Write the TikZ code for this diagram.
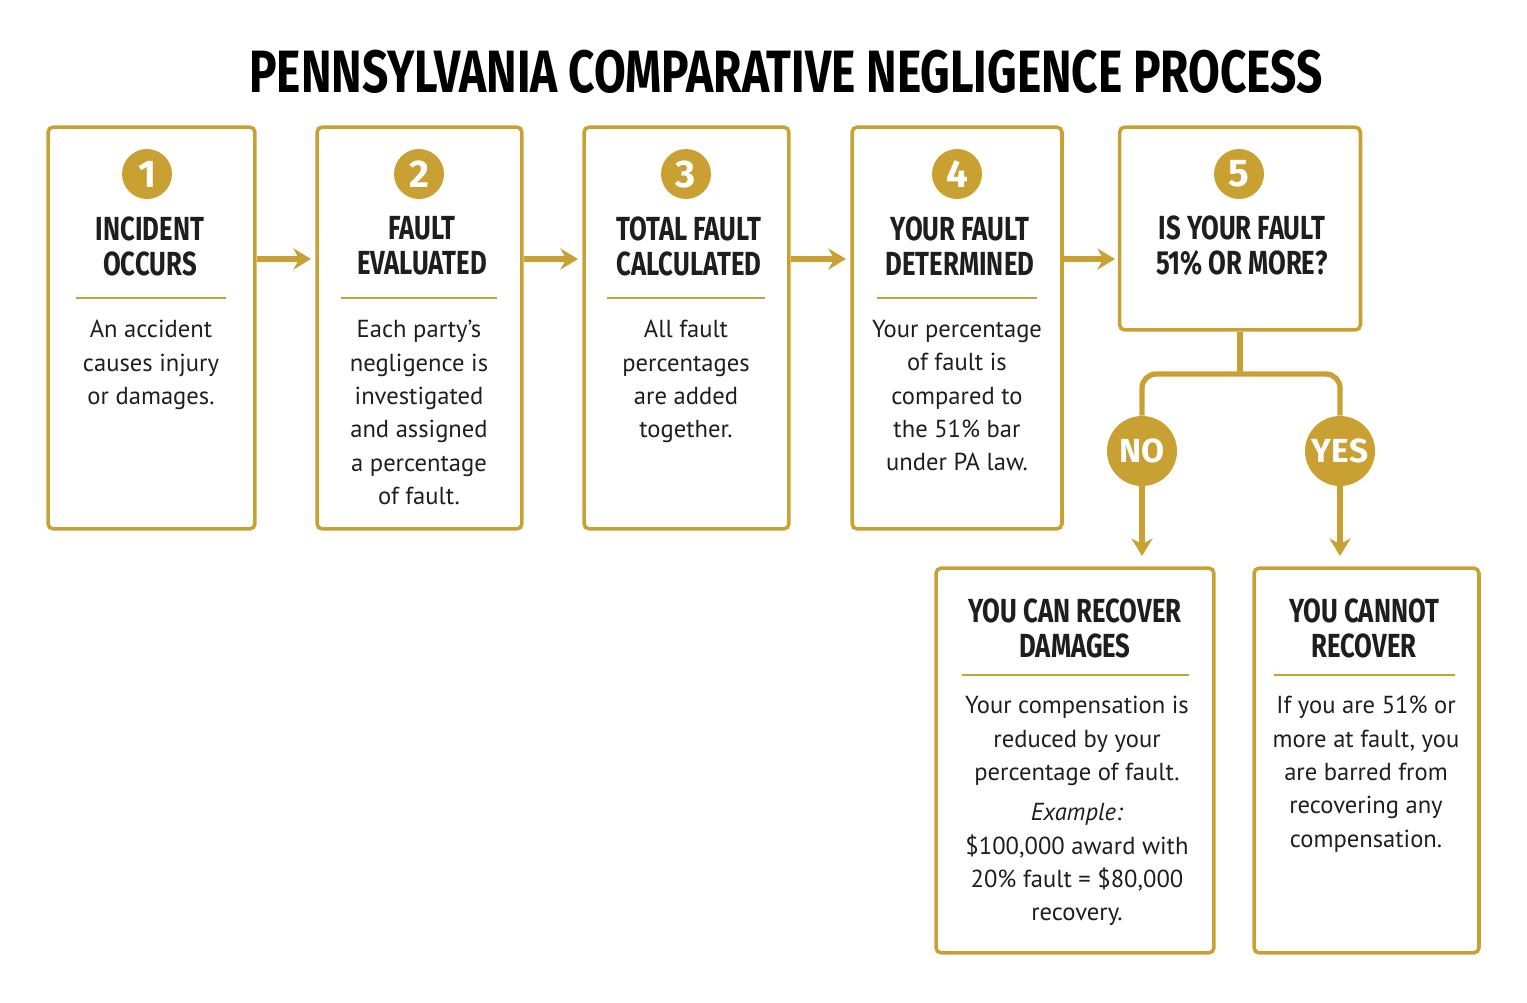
\documentclass[tikz,border=0pt]{standalone}
\usepackage{fontspec}
\setmainfont{PT Sans}
\newfontfamily\headfont{Fira Sans}
\usetikzlibrary{positioning,arrows.meta}
\definecolor{gold}{HTML}{C9A133}
\definecolor{ink}{HTML}{1E1E1E}
\tikzset{
  box/.style={draw=gold, line width=2pt, rounded corners=3pt, inner sep=0pt},
  num/.style={circle, fill=gold, minimum size=1cm, inner sep=0pt, text=white, font=\headfont\fontsize{22}{22}\selectfont\bfseries},
  ttl/.style={align=center, text=ink, font=\headfont\fontsize{19}{20}\selectfont\bfseries, xscale=0.77, transform shape},
  body/.style={align=center, text=ink, font=\fontsize{14}{19}\selectfont, anchor=north},
  rule/.style={gold, line width=1.3pt},
  flow/.style={gold, line width=3pt, -{Stealth[length=10pt,width=12pt]}},
  choice/.style={circle, fill=gold, minimum size=1.4cm, inner sep=0pt, text=white, font=\headfont\fontsize{19}{20}\selectfont\bfseries},
}
\begin{document}
\begin{tikzpicture}[x=0.02cm, y=-0.02cm]
  \useasboundingbox (0,0) rectangle (1527,1002);
  % title
  \node[text=black, font=\headfont\fontsize{34}{34}\selectfont\bfseries, xscale=0.77, transform shape] (title) at (786,72) {PENNSYLVANIA COMPARATIVE NEGLIGENCE PROCESS};
  % step boxes
  \node[box, minimum width=4.14cm, minimum height=8.04cm] (s1) at (151.5,328) {};
  \node[box, minimum width=4.10cm, minimum height=8.04cm] (s2) at (419.5,328) {};
  \node[box, minimum width=4.10cm, minimum height=8.04cm] (s3) at (686.5,328) {};
  \node[box, minimum width=4.20cm, minimum height=8.04cm] (s4) at (957,328) {};
  \node[box, minimum width=4.82cm, minimum height=4.06cm] (s5) at (1240,228.5) {};
  \node[box, minimum width=5.56cm, minimum height=7.70cm] (yes) at (1075,760.5) {};
  \node[box, minimum width=4.50cm, minimum height=7.70cm] (no) at (1366.5,760.5) {};
  % numbers and titles
  \foreach \i/\x/\t in {1/147/{INCIDENT\\OCCURS}, 2/419/{FAULT\\EVALUATED}, 3/686/{TOTAL FAULT\\CALCULATED}, 4/957/{YOUR FAULT\\DETERMINED}, 5/1239/{IS YOUR FAULT\\51\% OR MORE?}}{
    \node[num] (n\i) at (\x,174) {\i};
    \node[ttl] (t\i) at (\x+3,246) {\t};
  }
  \foreach \i/\x/\w in {1/151/75, 2/419/78, 3/686/79, 4/957/80}
    \draw[rule] (\x-\w,298) -- (\x+\w,298);
  % body texts
  \node[body] (b1) at (151,314) {An accident\\causes injury\\or damages.};
  \node[body] (b2) at (419,314) {Each party’s\\negligence is\\investigated\\and assigned\\a percentage\\of fault.};
  \node[body] (b3) at (686,314) {All fault\\percentages\\are added\\together.};
  \node[body] (b4) at (957,314) {Your percentage\\of fault is\\compared to\\the 51\% bar\\under PA law.};
  % arrows between steps
  \draw[flow] (s1.east |- 0,259) -- (311,259);
  \draw[flow] (s2.east |- 0,259) -- (578,259);
  \draw[flow] (s3.east |- 0,259) -- (846,259);
  \draw[flow] (s4.east |- 0,259) -- (1115,259);
  % branch
  \node[choice] (cno) at (1142,451) {NO};
  \node[choice] (cyes) at (1340,451) {YES};
  \coordinate (split) at (1240,374);
  \draw[gold, line width=3pt] (s5.south) -- (split);
  \draw[gold, line width=3pt, rounded corners=8pt] (cno.north) |- (split) -| (cyes.north);
  \draw[flow] (cno.south) -- (1142,556);
  \draw[flow] (cyes.south) -- (1340,556);
  % outcomes
  \node[ttl] (ty) at (1075,628) {YOU CAN RECOVER\\DAMAGES};
  \node[ttl] (tn) at (1364,628) {YOU CANNOT\\RECOVER};
  \draw[rule] (962,675) -- (1189,675);
  \draw[rule] (1274,675) -- (1455,675);
  \node[body] (by) at (1077,690) {Your compensation is\\reduced by your\\percentage of fault.\\[4pt]\textit{Example:}\\\$100,000 award with\\20\% fault = \$80,000\\recovery.};
  \node[body] (bn) at (1366,690) {If you are 51\% or\\more at fault, you\\are barred from\\recovering any\\compensation.};
\end{tikzpicture}
\end{document}
